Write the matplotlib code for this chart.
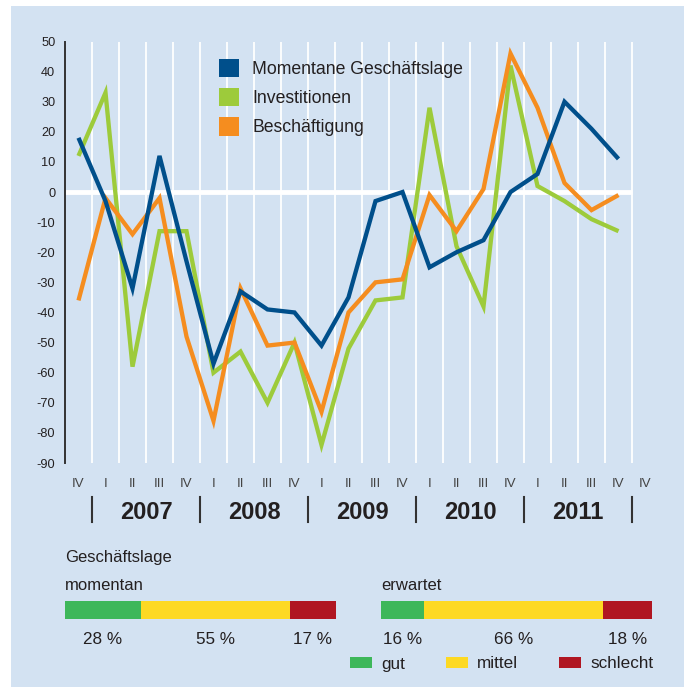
import matplotlib
matplotlib.use('Agg')
import numpy as np
import matplotlib.pyplot as plt
from matplotlib.patches import Rectangle, Patch

plt.rcParams['font.family'] = ['Liberation Sans', 'DejaVu Sans']

# ---------------- data ----------------
quarters = ['IV', 'I', 'II', 'III', 'IV', 'I', 'II', 'III', 'IV', 'I', 'II', 'III', 'IV',
            'I', 'II', 'III', 'IV', 'I', 'II', 'III', 'IV', 'IV']
years = ['2007', '2008', '2009', '2010', '2011']
series_names = ['Momentane Geschäftslage', 'Investitionen', 'Beschäftigung']
lage = [18, -3, -32, 12, -23, -57, -33, -39, -40, -51, -35, -3, 0, -25, -20, -16, 0, 6, 30, 21, 11]
invest = [12, 33, -58, -13, -13, -60, -53, -70, -50, -84, -52, -36, -35, 28, -18, -38, 42, 2, -3, -9, -13]
besch = [-36, -2, -14, -2, -48, -76, -32, -51, -50, -73, -40, -30, -29, -1, -13, 1, 46, 28, 3, -6, -1]
yticks = list(range(-90, 51, 10))

bar_title = 'Geschäftslage'
bar_groups = ['momentan', 'erwartet']
bar_cats = ['gut', 'mittel', 'schlecht']
momentan = [28, 55, 17]
erwartet = [16, 66, 18]

# ---------------- style ----------------
W, H = 689, 687
BG = '#d3e2f2'
TXT = '#231f20'
C_BLUE, C_GREEN, C_ORANGE = '#004f8b', '#9dcb3b', '#f58d1f'
BAR_COLORS = ['#3db75a', '#fdd923', '#b01622']


def fx(px):
    return px / W


def fy(py):
    return 1 - py / H


fig = plt.figure(figsize=(W / 100, H / 100), dpi=100)
fig.patch.set_facecolor('white')
fig.add_artist(Rectangle((fx(11), 0), fx(684) - fx(11), fy(6), transform=fig.transFigure,
                         facecolor=BG, edgecolor='none', zorder=-10))

# ---------------- main line chart ----------------
ax = fig.add_axes([fx(65), fy(463), (659 - 65) / W, (463 - 41.5) / H])
ax.set_facecolor('none')
ax.set_xlim(-0.5, 21.5)
ax.set_ylim(-90, 50)

ax.set_xticks(np.arange(0.5, 21, 1), minor=True)
ax.grid(which='minor', axis='x', color='white', lw=1.3, zorder=0)
ax.axhline(0, xmin=0, xmax=21 / 22, color='white', lw=3.5, solid_capstyle='butt', zorder=1)

x = np.arange(len(lage))
l_inv, = ax.plot(x, invest, color=C_GREEN, lw=3.1, solid_joinstyle='miter', solid_capstyle='butt', zorder=3)
l_bes, = ax.plot(x, besch, color=C_ORANGE, lw=3.1, solid_joinstyle='miter', solid_capstyle='butt', zorder=4)
l_lag, = ax.plot(x, lage, color=C_BLUE, lw=3.1, solid_joinstyle='miter', solid_capstyle='butt', zorder=5)

for s in ['top', 'right', 'bottom']:
    ax.spines[s].set_visible(False)
ax.spines['left'].set_color('#333333')
ax.spines['left'].set_linewidth(1.4)

ax.set_yticks(yticks)
ax.set_yticklabels([str(v) for v in yticks])
ax.tick_params(axis='y', length=0, pad=7, labelsize=9.2, labelcolor=TXT)
ax.set_xticks(range(len(quarters)))
ax.set_xticklabels(quarters)
ax.tick_params(axis='x', which='both', length=0, pad=10.5, labelsize=9.5, labelcolor='#444444')

# year separators and labels
xt = ax.get_xaxis_transform()
y_top = -(497 - 463) / 421.5
y_bot = -(521.5 - 463) / 421.5
for k in range(len(years) + 1):
    xs = 0.5 + 4 * k
    ax.plot([xs, xs], [y_top, y_bot], transform=xt, color='#333333', lw=1.5, clip_on=False)
for k, yr in enumerate(years):
    ax.text(2.5 + 4 * k, -(519.3 - 463) / 421.5, yr, transform=xt, ha='center', va='baseline',
            fontsize=17, fontweight='bold', color=TXT)

handles = [Patch(facecolor=c, edgecolor='none') for c in (C_BLUE, C_GREEN, C_ORANGE)]
ax.legend(handles, series_names, loc='upper left', bbox_to_anchor=(fx(219), fy(59)),
          bbox_transform=fig.transFigure, frameon=False, fontsize=12.7, handlelength=1.13,
          handleheight=1.2, handletextpad=0.75, labelspacing=0.58, borderpad=0, borderaxespad=0,
          labelcolor=TXT)

# ---------------- stacked share bars ----------------
fig.text(fx(65), fy(562), bar_title, ha='left', va='baseline', fontsize=12, color=TXT)
bar_handles = None
for name, vals, left_px in [(bar_groups[0], momentan, 65), (bar_groups[1], erwartet, 381)]:
    bax = fig.add_axes([fx(left_px), fy(618.7), 271 / W, 17.7 / H])
    bax.set_xlim(0, 100)
    bax.set_ylim(-0.5, 0.5)
    bax.axis('off')
    fig.text(fx(left_px), fy(590), name, ha='left', va='baseline', fontsize=12, color=TXT)
    left = 0
    hs = []
    for v, c in zip(vals, BAR_COLORS):
        b = bax.barh(0, v, left=left, height=1, color=c, edgecolor='none')
        hs.append(b)
        bax.text(left + v / 2, -(644 - 618.7) / 17.7, f'{v} %', transform=bax.get_xaxis_transform(),
                 ha='center', va='baseline', fontsize=12.3, color=TXT)
        left += v
    if bar_handles is None:
        bar_handles = hs

fig.legend(bar_handles, bar_cats, loc='center left', bbox_to_anchor=(fx(350), fy(664)),
           bbox_transform=fig.transFigure, ncol=3, frameon=False, fontsize=12.3,
           handlelength=1.27, handleheight=0.64, handletextpad=0.55, columnspacing=2.4,
           borderpad=0, borderaxespad=0, labelcolor=TXT)

fig.savefig('out.png', dpi=100, facecolor='white')
